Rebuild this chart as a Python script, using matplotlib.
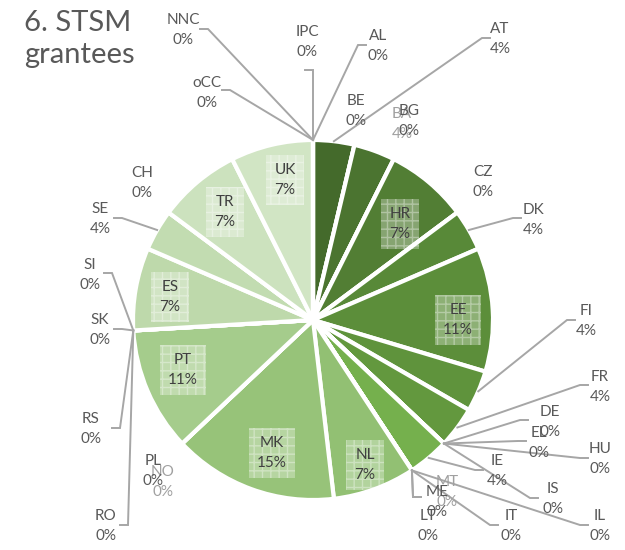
import matplotlib.pyplot as plt
import numpy as np
from matplotlib.colors import to_rgb

# STSM grantees per country (count of grantees)
countries = ['AL', 'AT', 'BE', 'BA', 'BG', 'HR', 'CZ', 'DK', 'EE', 'FI', 'FR',
             'DE', 'EL', 'HU', 'IS', 'IE', 'IL', 'IT', 'LT', 'MT', 'ME', 'NL',
             'MK', 'NO', 'PL', 'PT', 'RO', 'RS', 'SK', 'SI', 'ES', 'SE', 'CH',
             'TR', 'UK', 'oCC', 'NNC', 'IPC']
grantees = [0, 1, 0, 1, 0, 2, 0, 1, 3, 1, 1,
            0, 0, 0, 0, 1, 0, 0, 0, 0, 0, 2,
            4, 0, 0, 3, 0, 0, 0, 0, 2, 1, 0,
            2, 2, 0, 0, 0]
inside = ['HR', 'EE', 'NL', 'MK', 'PT', 'ES', 'TR', 'UK']

# label layout, image pixels (x, y from top): text centre, leader-line end
lab_pos = {
    'AL': (378, 46), 'AT': (500, 39), 'BE': (356, 111), 'BA': (402, 124),
    'BG': (409, 121), 'HR': (400, 224), 'CZ': (483, 182), 'DK': (533, 220),
    'EE': (458, 320), 'FI': (586, 321), 'FR': (600, 387), 'DE': (550, 422),
    'EL': (539, 443), 'HU': (600, 459), 'IS': (553, 499), 'IE': (497, 471),
    'IL': (600, 526), 'IT': (511, 526), 'LT': (428, 526), 'MT': (447, 492),
    'ME': (437, 502), 'NL': (365, 465), 'MK': (272, 453), 'NO': (163, 482),
    'PL': (153, 471), 'PT': (183, 370), 'RO': (106, 526), 'RS': (91, 429),
    'SK': (100, 330), 'SI': (90, 275), 'ES': (170, 297), 'SE': (100, 219),
    'CH': (142, 183), 'TR': (225, 212), 'UK': (285, 180), 'oCC': (207, 93),
    'NNC': (183, 30), 'IPC': (307, 42),
}
line_end = {
    'AL': (358, 45), 'AT': (482, 38), 'IPC': (313, 70), 'oCC': (230, 90),
    'NNC': (208, 29), 'DK': (513, 218), 'FI': (567, 320), 'FR': (580, 385),
    'DE': (520, 420), 'EL': (518, 441), 'HU': (580, 458), 'IS': (530, 498),
    'IE': (475, 470), 'IL': (580, 525), 'IT': (490, 525), 'SE': (122, 218),
    'SI': (112, 273), 'SK': (122, 329), 'RS': (120, 428), 'RO': (128, 525),
    'ME': (413, 497), 'LT': (413, 497),
}
faint = ['BA', 'MT', 'NO']

W, H = 625, 550
cx, cy, R = 313, 320, 180

# Excel-like monochromatic green palette: dark shade -> base -> light tint
base = np.array(to_rgb('#70AD47'))
mid_i = 14
n = len(countries)
colors = []
for i in range(n):
    if i < mid_i:
        c = base * (0.58 + 0.42 * i / mid_i)
    else:
        c = base + (1 - base) * 0.78 * (i - mid_i) / (n - 1 - mid_i)
    colors.append(tuple(c))

plt.rcParams['font.family'] = ['Lato', 'DejaVu Sans']
fig = plt.figure(figsize=(6.25, 5.5), dpi=100)
ax = fig.add_axes([0, 0, 1, 1])

ax.pie(grantees, colors=colors, startangle=90, counterclock=False,
       center=(cx, H - cy), radius=R,
       wedgeprops=dict(edgecolor='white', linewidth=3))

total = sum(grantees)
cum = np.cumsum([0] + grantees[:-1])
for i, name in enumerate(countries):
    v = grantees[i]
    pct = '%d%%' % round(v / total * 100)
    mid = np.radians(90 - (cum[i] + v / 2) / total * 360)
    ex, ey = cx + R * np.cos(mid), cy - R * np.sin(mid)
    tx, ty = lab_pos[name]
    if name in inside:
        ax.text(tx, H - ty, name + '\n' + pct, ha='center', va='center',
                fontsize=11, color='#404040', linespacing=1.55,
                bbox=dict(boxstyle='square,pad=0.55', fc=(1, 1, 1, 0.3),
                          ec=(1, 1, 1, 0.35), hatch='++', lw=0))
        continue
    if name in line_end:
        lx, ly = line_end[name]
        sx = lx + (8 if tx > lx else -8)
        ax.plot([ex, lx, sx], [H - ey, H - ly, H - ly], color='#a6a6a6',
                lw=1.4, solid_joinstyle='miter')
    col = '#a0a0a0' if name in faint else '#595959'
    ax.text(tx, H - ty, name + '\n' + pct, ha='center', va='center',
            fontsize=11, color=col, linespacing=1.5)

ax.text(24, H - 10, '6. STSM\ngrantees', ha='left', va='top', fontsize=21,
        color='#595959', linespacing=1.3)

ax.set_xlim(0, W)
ax.set_ylim(0, H)
ax.set_aspect('equal')
ax.axis('off')

plt.savefig('out.png', dpi=100)
